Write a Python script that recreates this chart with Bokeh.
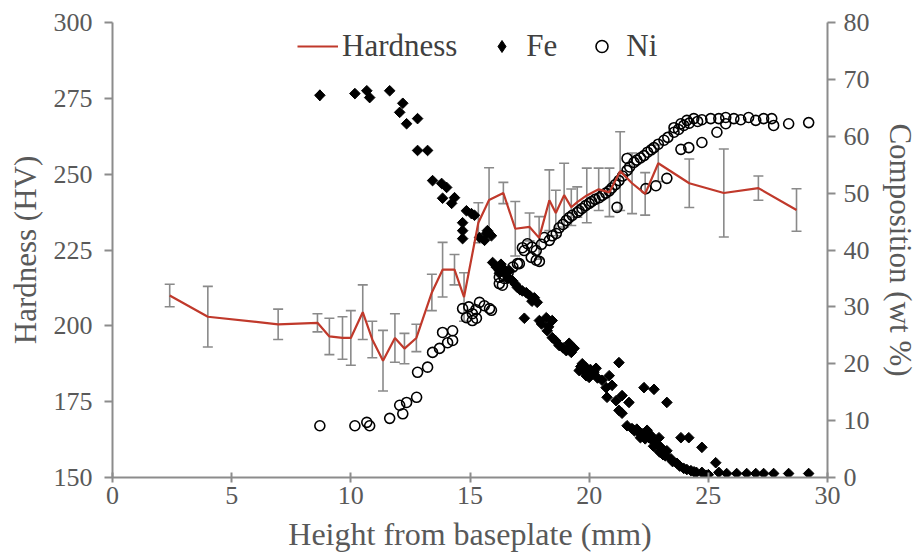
import math
from bokeh.plotting import figure
from bokeh.models import Range1d, LinearAxis, Whisker, ColumnDataSource, Legend, LegendItem, FixedTicker
from bokeh.embed import file_html
from bokeh.resources import INLINE

# Hardness profile
hx = [2.4, 4.0, 6.95, 8.6, 9.1, 9.65, 10.0, 10.5, 10.9, 11.35, 11.85, 12.25, 12.75, 13.4, 13.85, 14.35, 14.75,
      15.35, 15.8, 16.4, 16.9, 17.5, 17.9, 18.33, 18.6, 18.95, 19.25, 19.5, 19.9, 20.4, 20.85, 21.3, 21.8, 22.35,
      22.9, 24.2, 25.65, 27.1, 28.7]
hv = [210, 203, 200.5, 201, 196.5, 196, 196, 204.5, 195.5, 188.5, 196, 192.5, 196, 211, 218.5, 218.5, 209.5,
      234, 241.5, 243.8, 232, 232.6, 229, 241.4, 237.2, 243.1, 239.1, 240.8, 243, 245, 244, 251, 247, 243.5,
      253.6, 247, 243.8, 245.4, 238.2]
herr = [3.7, 10, 5, 3, 6, 7, 9, 9, 6, 10, 8, 5, 4.5, 6, 9, 5, 8,
        6.6, 10.6, 3.5, 9, 4.6, 7, 10, 7.5, 10.5, 6, 5, 9, 7, 8, 13, 10, 7,
        6, 8, 14.5, 4, 7]

# Fe composition (wt %)
fe_x = [8.70, 10.17, 10.67, 10.79, 11.63, 12.05, 12.18, 12.34, 12.80, 12.80, 13.22, 13.43, 13.81, 14.02, 13.85,
        14.23, 14.35, 14.85, 14.69, 14.69, 14.69, 15.06, 15.19, 15.73, 15.90, 15.61, 15.69, 15.40,
        16.23, 16.36, 16.53, 16.65, 16.23, 16.78, 16.99, 17.36, 17.70, 17.82,
        15.95, 16.1, 16.3, 16.45, 16.6, 16.9, 17.1, 17.2, 17.5, 17.6,
        17.28, 17.91, 18.20, 18.45, 18.24, 18.45, 18.74, 19.04, 19.16, 19.37, 18.0, 18.3, 18.6, 18.9, 19.25,
        19.58, 19.87, 20.13, 19.87, 20.29, 19.71, 20.54, 20.84, 21.25, 19.65, 19.8, 19.95, 20.05, 20.2, 20.0, 20.35,
        20.71, 20.96, 20.75, 21.13, 21.38, 21.67, 21.25, 21.38, 21.59, 21.80, 22.30, 22.72, 23.26,
        22.09, 22.22, 22.43, 22.51, 22.59, 22.80, 22.93, 23.01, 23.26, 23.43, 23.68,
        21.9, 22.0, 22.15, 22.35, 22.65, 22.7, 22.95, 23.1, 23.2, 23.5, 23.8, 24.1, 24.4,
        23.85, 24.18, 24.73, 23.97, 24.27, 24.73, 25.31, 25.44, 25.77, 26.19, 26.61, 26.99, 27.32, 27.74,
        28.37, 29.21, 24.90, 24.5, 25.0]
fe_y = [67.2, 67.5, 68.0, 66.8, 68.0, 64.2, 65.8, 62.2, 63.1, 57.5, 57.5, 52.2, 51.7, 51.0, 49.1,
        48.2, 49.2, 46.9, 44.8, 43.4, 42.0, 46.4, 46.1, 43.4, 42.5, 41.7, 42.9, 42.2,
        36.4, 36.9, 35.5, 36.4, 35.9, 34.6, 33.4, 32.5, 31.6, 30.8,
        37.8, 37.0, 37.5, 36.0, 35.0, 34.0, 33.0, 32.8, 32.0, 31.0,
        28.0, 27.6, 28.1, 27.6, 25.8, 24.6, 23.2, 22.3, 23.6, 22.7, 27.0, 26.5, 24.0, 22.8, 22.0,
        18.8, 19.3, 18.3, 17.9, 19.2, 20.0, 17.1, 17.9, 20.2, 19.5, 18.6, 18.9, 19.0, 18.5, 17.6, 17.5,
        15.8, 16.2, 14.1, 13.5, 14.4, 13.2, 11.8, 11.3, 9.1, 8.6, 15.8, 15.5, 13.2,
        7.9, 7.7, 8.3, 7.0, 7.4, 6.0, 7.0, 5.3, 4.7, 3.3, 2.5,
        8.2, 8.5, 7.0, 6.8, 6.5, 5.5, 4.5, 4.0, 3.8, 2.8, 2.0, 1.4, 1.0,
        7.0, 7.0, 5.3, 1.6, 1.2, 0.9, 2.6, 0.9, 0.7, 0.7, 0.7, 0.7, 0.7, 0.7,
        0.7, 0.7, 0.4, 0.9, 0.5]

# Ni composition (wt %)
ni_x = [8.70, 10.17, 10.67, 10.79, 11.63, 12.18, 12.05, 12.34, 12.76, 12.80, 13.22, 13.43, 13.72, 13.85, 14.27,
        14.27, 14.06, 14.69, 14.85, 15.10, 15.10, 15.40, 15.82, 15.27, 15.90, 15.25, 15.6, 14.95,
        16.23, 16.36, 16.23, 16.44, 16.99, 17.07, 17.28, 17.41, 17.78, 17.78, 17.20, 17.57, 17.91,
        16.6, 16.8, 17.6, 18.0, 18.45, 18.9,
        18.12, 18.33, 18.62, 18.74, 19.04, 19.29, 19.50, 19.16, 19.58, 20.0, 20.42, 20.84, 21.17, 21.25,
        21.59, 21.59, 21.88, 22.30, 22.38, 22.80, 23.26, 22.72, 23.14, 23.56, 23.97,
        19.7, 19.85, 20.1, 20.25, 20.55, 20.7, 20.95, 21.1, 21.4, 21.7, 22.0, 22.15, 22.45, 22.6, 22.9, 23.3,
        23.75, 24.2, 24.55,
        23.85, 24.18, 24.73, 25.36, 25.73, 23.56, 23.85, 24.10, 24.39, 24.73, 25.10, 25.44, 25.73, 26.07,
        26.36, 26.69, 26.99, 27.32, 27.66, 27.74, 28.37, 29.21]
ni_y = [9.1, 9.1, 9.7, 9.1, 10.4, 11.2, 12.7, 13.2, 14.1, 18.5, 19.4, 22.0, 22.7, 25.5, 25.8,
        24.1, 23.7, 29.7, 28.1, 28.8, 27.6, 30.8, 29.7, 28.0, 29.4, 29.5, 30.2, 30.0,
        35.2, 33.8, 34.1, 35.0, 37.6, 37.6, 39.9, 41.1, 38.2, 39.9, 40.4, 38.7, 38.0,
        36.0, 37.0, 40.5, 41.0, 42.5, 44.5,
        42.2, 41.7, 42.9, 43.9, 45.2, 46.1, 46.6, 45.7, 46.9, 48.2, 49.2, 50.4, 47.5, 52.2,
        54.0, 56.1, 55.4, 56.6, 50.8, 51.3, 52.6, 58.0, 59.3, 60.7, 61.9,
        47.3, 47.8, 48.5, 48.9, 49.6, 50.0, 50.9, 51.5, 53.0, 54.6, 55.8, 56.2, 57.2, 57.6, 58.6, 59.8,
        61.2, 62.3, 62.6,
        57.7, 58.0, 58.9, 60.7, 62.2, 61.5, 62.2, 62.8, 63.1, 62.9, 63.1, 63.1, 63.3, 63.1,
        62.9, 63.3, 62.8, 63.1, 63.1, 61.9, 62.2, 62.4]

x_ticks = [0, 5, 10, 15, 20, 25, 30]
hv_ticks = [150, 175, 200, 225, 250, 275, 300]
comp_ticks = [0, 10, 20, 30, 40, 50, 60, 70, 80]

FONT = "Liberation Serif"
TXT = "#595959"
AX = "#8c8c8c"
TICK_FS = "26px"
LAB_FS = "31px"

p = figure(width=920, height=558, output_backend="svg", toolbar_location=None,
           x_range=Range1d(0, 30), y_range=Range1d(150, 300),
           min_border_left=112, min_border_right=91, min_border_top=22, min_border_bottom=81)
p.extra_y_ranges = {"comp": Range1d(0, 80)}
p.outline_line_color = None
p.xgrid.visible = False
p.ygrid.visible = False
p.background_fill_color = "white"

for ax in [p.xaxis[0], p.yaxis[0]]:
    ax.axis_line_color = AX
    ax.axis_line_width = 2
    ax.major_tick_line_color = AX
    ax.major_tick_line_width = 2
    ax.minor_tick_line_color = None
    ax.major_label_text_font = FONT
    ax.major_label_text_font_size = TICK_FS
    ax.major_label_text_color = TXT
    ax.axis_label_text_font = FONT
    ax.axis_label_text_font_size = LAB_FS
    ax.axis_label_text_font_style = "normal"
    ax.axis_label_text_color = TXT

p.xaxis.ticker = FixedTicker(ticks=x_ticks)
p.xaxis.axis_label = "Height from baseplate (mm)"
p.xaxis.axis_label_text_font_size = "32px"
p.xaxis.major_tick_in = 5
p.xaxis.major_tick_out = 5
p.xaxis.major_label_standoff = 4
p.xaxis.axis_label_standoff = 9

p.yaxis.ticker = FixedTicker(ticks=hv_ticks)
p.yaxis.axis_label = "Hardness (HV)"
p.yaxis.major_tick_in = 0
p.yaxis.major_tick_out = 8
p.yaxis.major_label_standoff = 12
p.yaxis.axis_label_standoff = 8

rax = LinearAxis(y_range_name="comp", ticker=FixedTicker(ticks=comp_ticks), axis_label="Composition (wt %)")
rax.axis_line_color = AX
rax.axis_line_width = 2
rax.major_tick_line_color = AX
rax.major_tick_line_width = 2
rax.minor_tick_line_color = None
rax.major_tick_in = 0
rax.major_tick_out = 8
rax.major_label_standoff = 8
rax.major_label_text_font = FONT
rax.major_label_text_font_size = TICK_FS
rax.major_label_text_color = TXT
rax.axis_label_text_font = FONT
rax.axis_label_text_font_size = LAB_FS
rax.axis_label_text_font_style = "normal"
rax.axis_label_text_color = TXT
rax.axis_label_standoff = 10
p.add_layout(rax, "right")

hsrc = ColumnDataSource(dict(x=hx, y=hv, lo=[v - e for v, e in zip(hv, herr)], hi=[v + e for v, e in zip(hv, herr)]))

ni_r = p.scatter(ni_x, ni_y, y_range_name="comp", marker="circle", size=10, fill_color=None,
                 line_color="black", line_width=1.6)
# legend proxy for Fe: plain diamond on the first Fe point (hidden under the rhombus drawn next)
fe_leg = p.scatter(fe_x[:1], fe_y[:1], y_range_name="comp", marker="diamond", size=11,
                   fill_color="black", line_color="black")
p.scatter(fe_x, fe_y, y_range_name="comp", marker="square", angle=math.pi / 4, size=7.5,
          fill_color="black", line_color="black", line_width=1)

wh = Whisker(source=hsrc, base="x", upper="hi", lower="lo", line_color="#8a8a8a", line_width=1.6)
for hd in (wh.upper_head, wh.lower_head):
    hd.size = 10
    hd.line_color = "#8a8a8a"
    hd.line_width = 1.6
p.add_layout(wh)

h_r = p.line("x", "y", source=hsrc, line_color="#c0392b", line_width=2.2)

legend = Legend(items=[LegendItem(label="Hardness", renderers=[h_r]),
                       LegendItem(label="Fe", renderers=[fe_leg]),
                       LegendItem(label="Ni", renderers=[ni_r])],
                orientation="horizontal", location=(185, 413),
                label_text_font=FONT, label_text_font_size="31px", label_text_color="#404040",
                border_line_color=None, background_fill_alpha=0,
                glyph_width=41, glyph_height=30, spacing=24, label_standoff=4, padding=0, margin=0)
p.add_layout(legend, "center")

open("out.html", "w").write(file_html(p, INLINE))
